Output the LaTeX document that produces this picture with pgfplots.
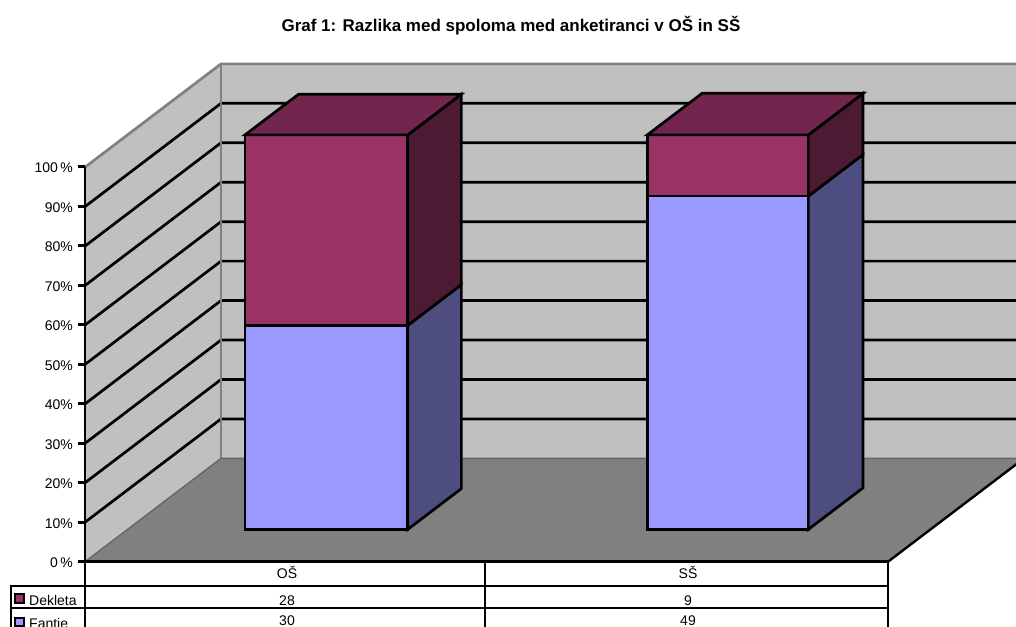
\documentclass[border=0pt]{standalone}
\usepackage{fontspec}
\setmainfont{Liberation Sans}
\usepackage{pgfplots}
\pgfplotsset{compat=1.18}

\definecolor{wall}{HTML}{C0C0C0}
\definecolor{floorgray}{HTML}{808080}
\definecolor{girls}{HTML}{993366}
\definecolor{girlstop}{HTML}{73264D}
\definecolor{girlsside}{HTML}{4C1A33}
\definecolor{boys}{HTML}{9999FF}
\definecolor{boysside}{HTML}{4D4D80}

% Oblique projection: x on the front plane, p = percent height, d = depth (0 front, 1 back)
\pgfplotsset{
  table/oblique/.style={x expr=\thisrow{x}+136*\thisrow{d}, y expr=64.3+3.945*\thisrow{p}+103.3*\thisrow{d}},
  face/.style={draw=black, line width=2.7pt, line join=miter, mark=none},
  grid line/.style={draw=black, line width=2.7pt, mark=none},
  edge line/.style={draw=floorgray, line width=2.7pt, mark=none},
}

\begin{document}
\begin{tikzpicture}[x=1pt,y=1pt]
\useasboundingbox (0,0) rectangle (1016,626);
\clip (0,0) rectangle (1016,626);

\begin{axis}[
  at={(0,0)}, anchor=south west, scale only axis,
  width=1016pt, height=626pt,
  xmin=0, xmax=1016, ymin=0, ymax=626,
  hide axis, clip=false,
  table/row sep=\\,
]
% side and back walls
\addplot[fill=wall, draw=none, mark=none] table[oblique]{x p d\\ 85 0 0\\ 85 100 0\\ 85 100 1\\ 888 100 1\\ 888 0 1\\ 85 0 1\\} -- cycle;

% gridlines on the walls
\addplot[grid line] table[oblique]{x p d\\ 85 10 0\\ 85 10 1\\ 900 10 1\\};
\addplot[grid line] table[oblique]{x p d\\ 85 20 0\\ 85 20 1\\ 900 20 1\\};
\addplot[grid line] table[oblique]{x p d\\ 85 30 0\\ 85 30 1\\ 900 30 1\\};
\addplot[grid line] table[oblique]{x p d\\ 85 40 0\\ 85 40 1\\ 900 40 1\\};
\addplot[grid line] table[oblique]{x p d\\ 85 50 0\\ 85 50 1\\ 900 50 1\\};
\addplot[grid line] table[oblique]{x p d\\ 85 60 0\\ 85 60 1\\ 900 60 1\\};
\addplot[grid line] table[oblique]{x p d\\ 85 70 0\\ 85 70 1\\ 900 70 1\\};
\addplot[grid line] table[oblique]{x p d\\ 85 80 0\\ 85 80 1\\ 900 80 1\\};
\addplot[grid line] table[oblique]{x p d\\ 85 90 0\\ 85 90 1\\ 900 90 1\\};

% wall outlines
\addplot[edge line] table[oblique]{x p d\\ 85 100 0\\ 85 100 1\\ 900 100 1\\};
\addplot[edge line] table[oblique]{x p d\\ 85 100 1\\ 85 0 1\\};

% floor
\addplot[fill=floorgray, draw=none, mark=none] table[oblique]{x p d\\ 85 0 0\\ 888 0 0\\ 888 0 1\\ 85 0 1\\} -- cycle;
\addplot[draw=black!60, line width=1.4pt, mark=none] table[oblique]{x p d\\ 85 0 0\\ 85 0 1\\ 900 0 1\\};
\addplot[draw=black, line width=2.4pt, mark=none] table[oblique]{x p d\\ 888 0 0\\ 888 0 1\\};

% OŠ column: Fantje 30, Dekleta 28 of 58 pupils
\addplot[face, fill=boys] table[oblique]{x p d\\ 202.5 0 .313\\ 365.2 0 .313\\ 365.2 51.72 .313\\ 202.5 51.72 .313\\} -- cycle;
\addplot[face, fill=boysside] table[oblique]{x p d\\ 365.2 0 .313\\ 365.2 0 .707\\ 365.2 51.72 .707\\ 365.2 51.72 .313\\} -- cycle;
\addplot[face, fill=girls] table[oblique]{x p d\\ 202.5 51.72 .313\\ 365.2 51.72 .313\\ 365.2 100 .313\\ 202.5 100 .313\\} -- cycle;
\addplot[face, fill=girlsside] table[oblique]{x p d\\ 365.2 51.72 .313\\ 365.2 51.72 .707\\ 365.2 100 .707\\ 365.2 100 .313\\} -- cycle;
\addplot[face, fill=girlstop] table[oblique]{x p d\\ 202.5 100 .313\\ 365.2 100 .313\\ 365.2 100 .707\\ 202.5 100 .707\\} -- cycle;

% SŠ column: Fantje 49, Dekleta 9 of 58 pupils
\addplot[face, fill=boys] table[oblique]{x p d\\ 604.8 0 .313\\ 765.8 0 .313\\ 765.8 84.48 .313\\ 604.8 84.48 .313\\} -- cycle;
\addplot[face, fill=boysside] table[oblique]{x p d\\ 765.8 0 .313\\ 765.8 0 .715\\ 765.8 84.48 .715\\ 765.8 84.48 .313\\} -- cycle;
\addplot[face, fill=girls] table[oblique]{x p d\\ 604.8 84.48 .313\\ 765.8 84.48 .313\\ 765.8 100 .313\\ 604.8 100 .313\\} -- cycle;
\addplot[face, fill=girlsside] table[oblique]{x p d\\ 765.8 84.48 .313\\ 765.8 84.48 .715\\ 765.8 100 .715\\ 765.8 100 .313\\} -- cycle;
\addplot[face, fill=girlstop] table[oblique]{x p d\\ 604.8 100 .313\\ 765.8 100 .313\\ 765.8 100 .715\\ 604.8 100 .715\\} -- cycle;

% data table below the plot
\addplot[draw=black, line width=3pt, mark=none] coordinates {(85,64.3) (888,64.3)};
\addplot[draw=black, line width=2.4pt, mark=none] coordinates {(10,40.3) (888,40.3)};
\addplot[draw=black, line width=1.8pt, mark=none] coordinates {(10,18.3) (888,18.3)};
\addplot[draw=black, line width=2pt, mark=none] coordinates {(11,40.3) (11,-2)};
\addplot[draw=black, line width=2.7pt, mark=none] coordinates {(85,64.3) (85,-2)};
\addplot[draw=black, line width=2pt, mark=none] coordinates {(485,64.3) (485,-2)};
\addplot[draw=black, line width=2pt, mark=none] coordinates {(888,64.3) (888,-2)};

% legend keys in the table
\addplot[draw=black, line width=2.2pt, fill=girls, mark=none] coordinates {(15,23) (24,23) (24,32) (15,32)} -- cycle;
\addplot[draw=black, line width=2.2pt, fill=boys, mark=none] coordinates {(15,0) (24,0) (24,8) (15,8)} -- cycle;

\node[anchor=base, font=\fontsize{14}{16}\selectfont, inner sep=0pt] at (axis cs:287,48) {OŠ};
\node[anchor=base, font=\fontsize{14}{16}\selectfont, inner sep=0pt] at (axis cs:688,48) {SŠ};
\node[anchor=base west, font=\fontsize{14}{16}\selectfont, inner sep=0pt] at (axis cs:29,21) {Dekleta};
\node[anchor=base west, font=\fontsize{14}{16}\selectfont, inner sep=0pt] at (axis cs:29,-2) {Fantje};
\node[anchor=base, font=\fontsize{14}{16}\selectfont, inner sep=0pt] at (axis cs:287,21) {28};
\node[anchor=base, font=\fontsize{14}{16}\selectfont, inner sep=0pt] at (axis cs:688,21) {9};
\node[anchor=base, font=\fontsize{14}{16}\selectfont, inner sep=0pt] at (axis cs:287,0.5) {30};
\node[anchor=base, font=\fontsize{14}{16}\selectfont, inner sep=0pt] at (axis cs:688,0.5) {49};

% chart title
\node[anchor=base, font=\bfseries\fontsize{17}{19}\selectfont, inner sep=0pt] at (axis cs:511,594.5) {Graf 1: Razlika med spoloma med anketiranci v OŠ in SŠ};
\end{axis}

% percentage scale on the front edge
\begin{axis}[
  at={(85pt,64.3pt)}, anchor=south west, scale only axis,
  width=803pt, height=395pt,
  xmin=0, xmax=1, ymin=0, ymax=100,
  axis x line=none, axis y line*=left,
  y axis line style={-, line width=2.7pt, black},
  ytick={0,10,20,30,40,50,60,70,80,90,100},
  yticklabels={0\,\%,10\%,20\%,30\%,40\%,50\%,60\%,70\%,80\%,90\%,100\,\%},
  tick align=outside, major tick length=7pt,
  tick style={line width=2.7pt, black},
  yticklabel style={font=\fontsize{14}{16}\selectfont, inner sep=0pt, xshift=-5pt, yshift=-1pt},
]
\end{axis}
\end{tikzpicture}
\end{document}
